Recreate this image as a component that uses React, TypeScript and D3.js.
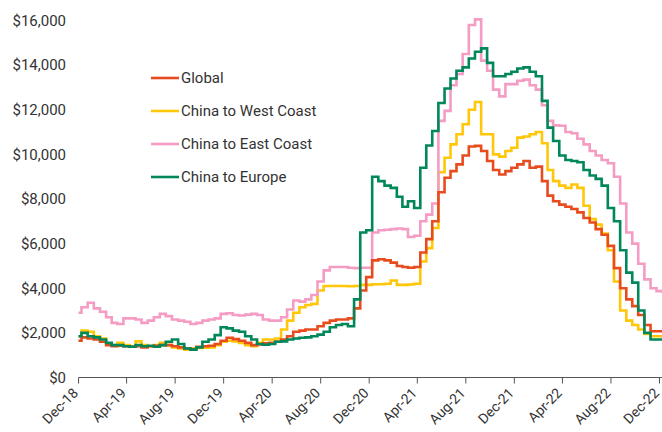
import React from 'react';
import * as d3 from 'd3';

const W = 662;
const H = 432;

const yTickValues = [0, 2000, 4000, 6000, 8000, 10000, 12000, 14000, 16000];
const xTickLabels = ['Dec-18', 'Apr-19', 'Aug-19', 'Dec-19', 'Apr-20', 'Aug-20', 'Dec-20', 'Apr-21', 'Aug-21', 'Dec-21', 'Apr-22', 'Aug-22', 'Dec-22'];

// semi-monthly observations (1st and 16th of each month), Dec 2018 -> mid Dec 2022
const global = [
  1650, 1800, 1750, 1700, 1600, 1450, 1400, 1420, 1400, 1380,
  1400, 1350, 1400, 1420, 1450, 1450, 1400, 1350, 1300, 1280,
  1380, 1400, 1420, 1500, 1650, 1780, 1720, 1650, 1550, 1450,
  1480, 1530, 1550, 1600, 1700, 1850, 2050, 2100, 2150, 2150,
  2300, 2450, 2550, 2600, 2600, 2650, 3100, 3900, 4500, 5250,
  5300, 5250, 5150, 5000, 4950, 4920, 4950, 5600, 6200, 7000,
  8300, 8950, 9250, 9550, 9950, 10350, 10380, 10150, 9700, 9300,
  9100, 9250, 9400, 9550, 9700, 9400, 9450, 8800, 8150, 7900,
  7750, 7650, 7550, 7400, 7150, 6950, 6650, 6400, 5900, 4900,
  4000, 3500, 3200, 2800, 2350, 2070, 2070, 2070,
];

const westCoast = [
  1850, 2100, 2050, 1850, 1750, 1500, 1450, 1550, 1450, 1400,
  1620, 1450, 1400, 1450, 1550, 1450, 1350, 1300, 1250, 1300,
  1320, 1330, 1350, 1450, 1600, 1650, 1620, 1550, 1450, 1400,
  1550, 1700, 1700, 1750, 2150, 2550, 2900, 3150, 3250, 3300,
  3900, 4100, 4100, 4100, 4100, 4090, 4100, 4150, 4150, 4180,
  4180, 4200, 4350, 4150, 4150, 4170, 4200, 5200, 5800, 6700,
  9200, 9850, 10450, 10900, 11350, 12000, 12350, 10900, 10900, 10000,
  9900, 10150, 10300, 10750, 10800, 10900, 11000, 10500, 9300, 8800,
  8600, 8500, 8650, 8500, 7700, 7100, 6850, 6450, 5700, 4300,
  3000, 2550, 2350, 2150, 1950, 1850, 1850, 1850,
];

const eastCoast = [
  2900, 3150, 3350, 3100, 2950, 2700, 2450, 2400, 2650, 2650,
  2600, 2450, 2550, 2700, 2850, 2750, 2600, 2550, 2500, 2400,
  2450, 2550, 2600, 2650, 2850, 2880, 2800, 2780, 2820, 2850,
  2800, 2600, 2550, 2550, 2700, 3050, 3450, 3400, 3500, 3700,
  4300, 4800, 4950, 4950, 4950, 4920, 4900, 4920, 4920, 6500,
  6600, 6620, 6650, 6680, 6650, 6300, 6350, 7000, 7300, 7800,
  11500, 11950, 13100, 13600, 14500, 15800, 16050, 14200, 13750, 12900,
  12600, 13150, 13150, 13300, 13350, 13100, 12900, 12200, 11500, 11300,
  11280, 11000, 10950, 10700, 10450, 10150, 9950, 9750, 9600, 9000,
  7800, 6500, 6000, 5100, 4400, 4000, 3870, 3850,
];

const europe = [
  1850, 2000, 1850, 1800, 1700, 1550, 1450, 1450, 1400, 1380,
  1450, 1400, 1420, 1380, 1450, 1600, 1700, 1500, 1300, 1250,
  1350, 1600, 1700, 1900, 2250, 2200, 2100, 2050, 1850, 1700,
  1500, 1470, 1500, 1600, 1620, 1700, 1750, 1780, 1800, 1850,
  1920, 2050, 2250, 2350, 2400, 2300, 3500, 6500, 6600, 9000,
  8800, 8600, 8500, 8100, 7650, 7900, 7600, 9400, 10400, 11050,
  12300, 12950, 13400, 13750, 13900, 14300, 14600, 14750, 14100, 13500,
  13500, 13600, 13700, 13850, 13900, 13700, 13500, 12400, 11200, 10600,
  9950, 9750, 9700, 9650, 9300, 9050, 8900, 8600, 7600, 7000,
  5700, 4700, 4250, 3000, 2000, 1700, 1700, 1700,
];

const seriesNames = ['Global', 'China to West Coast', 'China to East Coast', 'China to Europe'];
const seriesColors = ['#E84C1E', '#FFC708', '#F49CC3', '#00875A'];
const seriesValues = [global, westCoast, eastCoast, europe];
const drawOrder = [1, 2, 0, 3];

const FONT = 'Roboto, "Liberation Sans", sans-serif';

export default function App() {
  const parse = d3.timeParse('%b-%y');
  const tickDates = xTickLabels.map((l) => parse(l) as Date);
  const dates = global.map((_, i) => new Date(2018, 11 + Math.floor(i / 2), i % 2 === 0 ? 1 : 16));

  const x = d3.scaleTime().domain([tickDates[0], tickDates[tickDates.length - 1]]).range([78.5, 659.5]);
  const y = d3.scaleLinear().domain([0, 16000]).range([377.5, 20.5]);
  const axisY = y(0);

  const line = d3
    .line<number>()
    .x((_, i) => x(dates[i]))
    .y((d) => y(d))
    .curve(d3.curveStep);

  return (
    <svg
      width={W}
      height={H}
      viewBox={`0 0 ${W} ${H}`}
      style={{ position: 'absolute', left: 0, top: 0, background: '#fff' }}
      fontFamily={FONT}
    >
      <rect x={0} y={0} width={W} height={H} fill="#fff" />
      {yTickValues.map((v) => (
        <text key={v} x={66} y={y(v)} dy="0.35em" textAnchor="end" fontSize={15} fill="#333">
          {d3.format('$,')(v)}
        </text>
      ))}
      <g fill="none" strokeWidth={2.6} strokeLinejoin="miter">
        {drawOrder.map((k) => (
          <path key={k} d={line(seriesValues[k]) || ''} stroke={seriesColors[k]} />
        ))}
      </g>
      <line x1={x(tickDates[0])} x2={W} y1={axisY} y2={axisY} stroke="#555" strokeWidth={1} />
      {tickDates.map((d, i) => (
        <g key={i} transform={`translate(${x(d)},${axisY})`}>
          <line y1={0} y2={6} stroke="#555" strokeWidth={1} />
          <text
            transform="translate(-3,13) rotate(-45)"
            dy="0.35em"
            textAnchor="end"
            fontSize={14}
            fill="#333"
          >
            {xTickLabels[i]}
          </text>
        </g>
      ))}
      {seriesNames.map((name, i) => (
        <g key={name} transform={`translate(151,${78 + i * 33})`}>
          <line x1={0} x2={28} y1={0} y2={0} stroke={seriesColors[i]} strokeWidth={2.6} />
          <text x={30} y={0} dy="0.35em" fontSize={15} fill="#333">
            {name}
          </text>
        </g>
      ))}
    </svg>
  );
}
